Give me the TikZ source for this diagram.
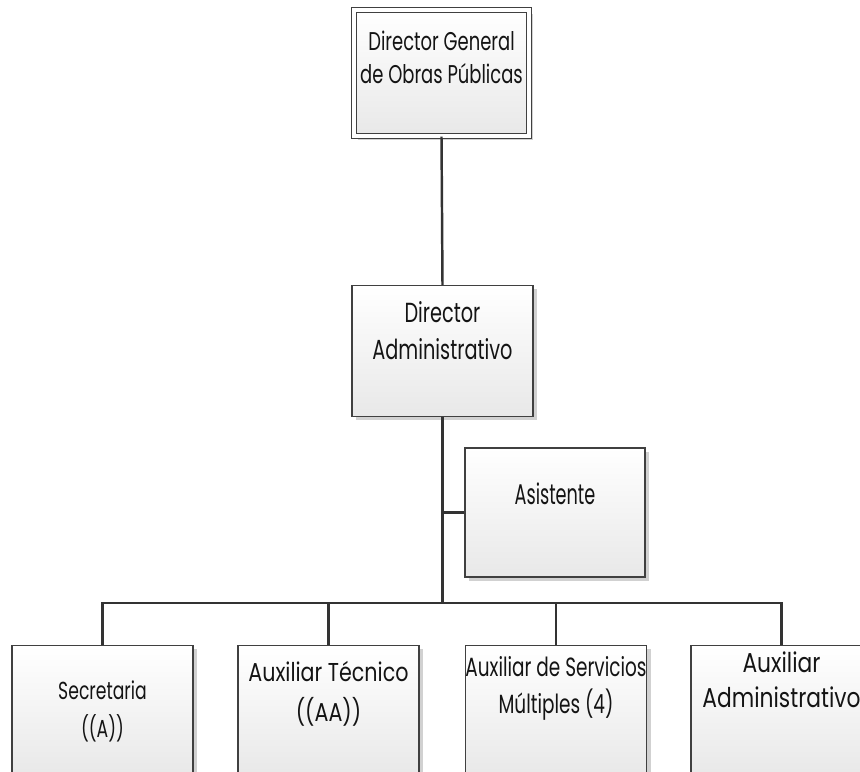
\documentclass[tikz,border=0pt]{standalone}
\usepackage{fontspec}
\setmainfont[FakeStretch=0.70]{Poppins}
\newfontfamily\letraestrecha[FakeStretch=0.62]{Poppins}
\newfontfamily\letraancha[FakeStretch=0.80]{Poppins}
\usetikzlibrary{shadows}

\tikzset{
  cargo/.style={draw=black!75, line width=0.6pt, top color=white, bottom color=black!9,
    minimum width=3.62cm, minimum height=2.62cm, inner sep=0pt,
    general shadow={fill=black!18, shadow xshift=0.08cm, shadow yshift=-0.08cm}},
  texto/.style={align=center, text=black!92, inner sep=0pt, anchor=north},
  linea/.style={draw=black!80, line width=1.4pt}
}

\begin{document}
\begin{tikzpicture}
			\useasboundingbox (0,0) rectangle (17.2,15.44);
			\clip (0,0) rectangle (17.2,15.44);
			\node[cargo, double=white, double distance=0.07cm, minimum width=3.5cm, minimum height=2.52cm] (dg) at (8.83,13.98) {};
			\node[cargo] (dad) at (8.85,8.42) {};
			\node[cargo, minimum width=3.6cm, minimum height=2.58cm] (asi) at (11.1,5.19) {};
			\node[cargo] (sec) at (2.05,1.22) {};
			\node[cargo] (tec) at (6.57,1.22) {};
			\node[cargo] (serv) at (11.12,1.22) {};
			\node[cargo] (aadm) at (15.63,1.22) {};
			\node[texto, font=\fontsize{14.6}{18.7}\selectfont] (tdg) at ([yshift=-0.42cm]dg.north) {Director General\\de Obras Públicas};
			\node[texto, font=\fontsize{15.7}{21}\selectfont] (tdad) at ([yshift=-0.32cm]dad.north) {Director\\Administrativo};
			\node[texto, font=\letraestrecha\fontsize{16.2}{19}\selectfont] (tasi) at ([yshift=-0.7cm]asi.north) {Asistente};
			\node[texto, font=\fontsize{14}{22}\selectfont] (tsec) at ([yshift=-0.7cm]sec.north) {Secretaria\\((A))};
			\node[texto, font=\letraancha\fontsize{14.7}{22.7}\selectfont] (ttec) at ([yshift=-0.32cm]tec.north) {Auxiliar Técnico\\((AA))};
			\node[texto, font=\fontsize{15}{21}\selectfont] (tserv) at ([yshift=-0.22cm]serv.north) {Auxiliar de Servicios\\Múltiples (4)};
			\node[texto, font=\letraancha\fontsize{15.5}{20}\selectfont] (taadm) at ([yshift=-0.13cm]aadm.north) {Auxiliar\\Administrativo};
			\coordinate (bus) at (8.85,3.38);
			\draw[linea] (dg.south) -- (dad.north);
			\draw[linea] (dad.south) -- (bus);
			\draw[linea] (asi.west) -- (asi.west -| dad.south);
			\draw[linea] (sec.north) |- (bus) -| (aadm.north);
			\draw[linea] (tec.north) -- (tec.north |- bus);
			\draw[linea] (serv.north) -- (serv.north |- bus);
\end{tikzpicture}
\end{document}
